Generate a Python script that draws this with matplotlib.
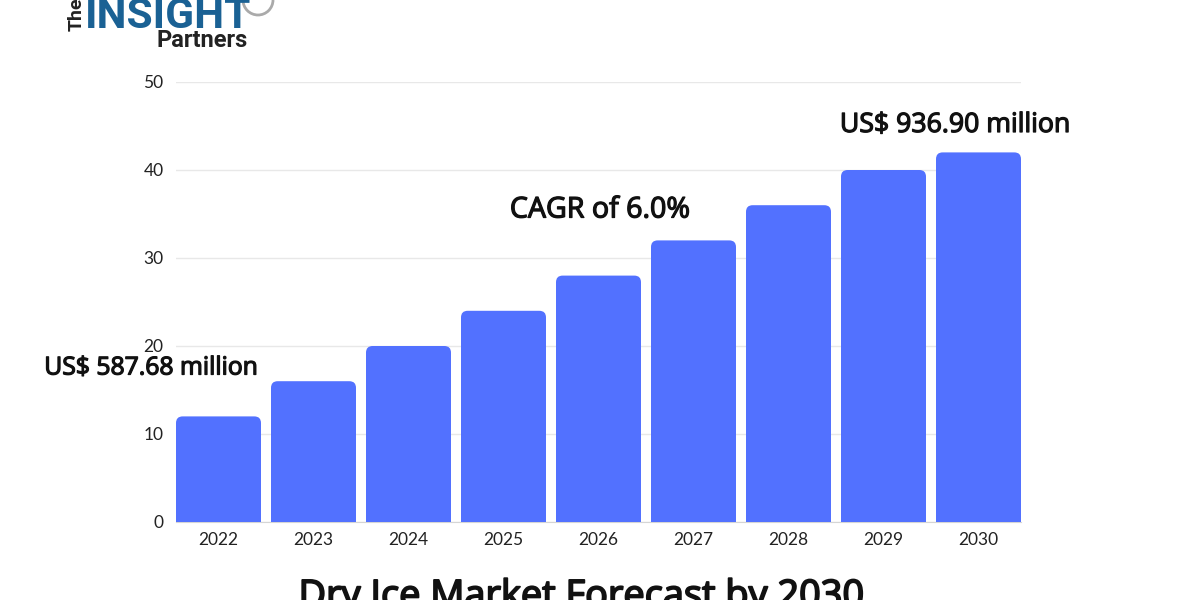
import matplotlib
matplotlib.use('Agg')
import matplotlib.pyplot as plt
import matplotlib.patheffects as pe
from matplotlib.patches import FancyBboxPatch, Arc

years = ['2022', '2023', '2024', '2025', '2026', '2027', '2028', '2029', '2030']
values = [12, 16, 20, 24, 28, 32, 36, 40, 42]
yticks = [0, 10, 20, 30, 40, 50]

W, H = 1200, 600
bar_color = '#5271ff'
bar_w = 85 / 95

def fx(px):
    return px / W

def fy(py):
    return 1 - py / H

fig = plt.figure(figsize=(12, 6), dpi=100, facecolor='white')
ax = fig.add_axes([fx(176), fy(522), (1021 - 176) / W, (522 - 82) / H])

for i, v in enumerate(values):
    # box starts below zero so only the top corners show rounded
    box = FancyBboxPatch((i - bar_w / 2, -2), bar_w, v + 2,
                         boxstyle='round,pad=0,rounding_size=0.07',
                         mutation_aspect=10.8, fc=bar_color, ec='none', zorder=3)
    ax.add_patch(box)

ax.set_xlim(-bar_w / 2, 8 + bar_w / 2)
ax.set_ylim(0, 50)
ax.set_xticks(range(len(years)), years)
ax.set_yticks(yticks)
ax.grid(axis='y', color='#e8e8e8', lw=1)
ax.set_axisbelow(True)
for s in ['top', 'right', 'left']:
    ax.spines[s].set_visible(False)
ax.spines['bottom'].set_color('#d5d5d5')
ax.tick_params(length=0, labelsize=12.5, labelcolor='#222222')
ax.tick_params(axis='x', pad=7)
ax.tick_params(axis='y', pad=9)
for t in ax.get_xticklabels() + ax.get_yticklabels():
    t.set_family('Lato')

# regular weight of the font only, so thicken with a stroke
thick = [pe.withStroke(linewidth=0.9, foreground='#111111')]

note = dict(family='Open Sans', color='#111111', ha='center', va='center',
            path_effects=thick)
fig.text(fx(151), fy(368), 'US$ 587.68 million', fontsize=17.8, **note)
fig.text(fx(600), fy(210), 'CAGR of 6.0%', fontsize=20.6, **note)
fig.text(fx(955), fy(125), 'US$ 936.90 million', fontsize=19.2, **note)

# title runs off the bottom edge in the source image
fig.text(fx(581.5), fy(607), 'Dry Ice Market Forecast by 2030', family='Open Sans',
         fontsize=27.3, color='#111111', ha='center', va='baseline',
         path_effects=[pe.withStroke(linewidth=1.3, foreground='#111111')])

# logo
fig.text(fx(85), fy(28), 'INSIGHT', family='Roboto', fontweight='bold', fontsize=30.5,
         color='#1a6194', ha='left', va='baseline')
fig.text(fx(86), fy(31), 'The', family='Roboto', fontweight='bold', fontsize=14,
         color='#222222', rotation=90, ha='right', va='bottom')
fig.text(fx(157), fy(47), 'Partners', family='Roboto', fontweight='bold', fontsize=17,
         color='#222222', ha='left', va='baseline')
lens = Arc((fx(258), fy(0)), 30 / W, 30 / H, theta1=180, theta2=360,
           transform=fig.transFigure, color='#aaaaaa', lw=2)
fig.add_artist(lens)

fig.savefig('out.png', dpi=100)
